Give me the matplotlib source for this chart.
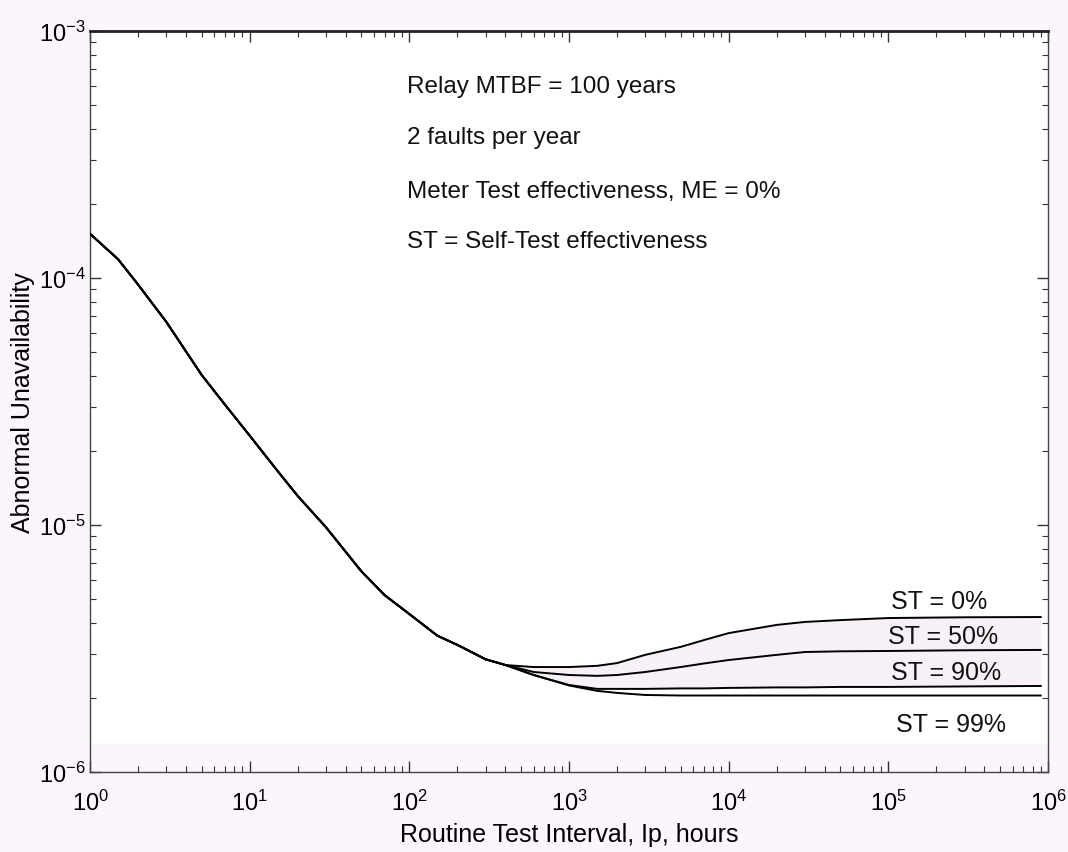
import matplotlib
matplotlib.use("Agg")
import matplotlib.pyplot as plt
from matplotlib.ticker import LogLocator, NullFormatter, FixedLocator

plt.rcParams["font.family"] = ["Liberation Sans", "DejaVu Sans"]
plt.rcParams["mathtext.fontset"] = "custom"
plt.rcParams["mathtext.rm"] = "Liberation Sans"

# shared descending part (all four curves coincide)
x_common = [1, 1.5, 2, 3, 5, 7, 10, 15, 20, 30, 50, 70, 100, 150, 200, 300, 400]
y_common = [1.51e-4, 1.19e-4, 9.4e-5, 6.65e-5, 4.05e-5, 3.07e-5, 2.30e-5, 1.65e-5,
            1.31e-5, 9.8e-6, 6.5e-6, 5.2e-6, 4.36e-6, 3.56e-6, 3.27e-6, 2.86e-6, 2.71e-6]

# tails after the split, by self-test effectiveness
x_tail = [600, 1000, 1500, 2000, 3000, 5000, 7000, 1e4, 2e4, 3e4, 5e4, 1e5, 3e5, 9e5]
st0 = [2.66e-6, 2.66e-6, 2.69e-6, 2.76e-6, 2.98e-6, 3.21e-6, 3.42e-6, 3.65e-6,
       3.94e-6, 4.05e-6, 4.12e-6, 4.20e-6, 4.23e-6, 4.24e-6]
st50 = [2.54e-6, 2.47e-6, 2.45e-6, 2.47e-6, 2.54e-6, 2.66e-6, 2.75e-6, 2.84e-6,
        2.98e-6, 3.06e-6, 3.08e-6, 3.09e-6, 3.11e-6, 3.12e-6]
st90 = [2.47e-6, 2.25e-6, 2.17e-6, 2.17e-6, 2.17e-6, 2.18e-6, 2.18e-6, 2.19e-6,
        2.20e-6, 2.20e-6, 2.21e-6, 2.21e-6, 2.22e-6, 2.23e-6]
st99 = [2.47e-6, 2.24e-6, 2.13e-6, 2.09e-6, 2.05e-6, 2.04e-6, 2.04e-6, 2.04e-6,
        2.04e-6, 2.04e-6, 2.04e-6, 2.04e-6, 2.04e-6, 2.04e-6]

series = {"ST = 0%": st0, "ST = 50%": st50, "ST = 90%": st90, "ST = 99%": st99}
label_pos = {"ST = 0%": (2.07e5, 4.92e-6), "ST = 50%": (2.19e5, 3.56e-6),
             "ST = 90%": (2.29e5, 2.54e-6), "ST = 99%": (2.46e5, 1.56e-6)}

notes = ["Relay MTBF = 100 years", "2 faults per year",
         "Meter Test effectiveness, ME = 0%", "ST = Self-Test effectiveness"]
note_y = [6.0e-4, 3.72e-4, 2.25e-4, 1.41e-4]

x_major = [1, 10, 100, 1e3, 1e4, 1e5, 1e6]
y_major = [1e-6, 1e-5, 1e-4, 1e-3]

bg = "#fdf5fd"
fig = plt.figure(figsize=(10.68, 8.53), dpi=100)
fig.patch.set_facecolor(bg)
ax = fig.add_axes([0.0843, 0.0938, 0.897, 0.8687])
ax.set_facecolor("white")
ax.set_xscale("log")
ax.set_yscale("log")

ax.axhspan(1e-6, 1.3e-6, color=bg, lw=0, zorder=0)

x_full = x_common + x_tail
ax.fill_between(x_full, y_common + st0, y_common + st90, color="#f7f1f7", lw=0, zorder=1)
for name, tail in series.items():
    ax.plot(x_full, y_common + tail, color="black", lw=1.4, zorder=3)
    lx, ly = label_pos[name]
    ax.text(lx, ly, name, ha="center", va="center", fontsize=18, color="#111111")

for txt, yv in zip(notes, note_y):
    ax.text(97, yv, txt, ha="left", va="center", fontsize=17.5, color="#111111")

ax.xaxis.set_major_locator(FixedLocator(x_major))
ax.yaxis.set_major_locator(FixedLocator(y_major))
ax.xaxis.set_minor_locator(LogLocator(base=10, subs=range(2, 10), numticks=20))
ax.yaxis.set_minor_locator(LogLocator(base=10, subs=range(2, 10), numticks=20))
ax.xaxis.set_minor_formatter(NullFormatter())
ax.yaxis.set_minor_formatter(NullFormatter())
ax.set_xlim(1, 1e6)
ax.set_ylim(1e-6, 1e-3)
ax.tick_params(which="both", direction="in", top=True, right=True, colors="#333333",
               labelcolor="black", labelsize=17)
ax.tick_params(which="major", length=8, width=1.0)
ax.tick_params(which="minor", length=4, width=0.8)
ax.tick_params(axis="x", which="major", pad=13)
ax.tick_params(axis="y", which="major", pad=3)

for side in ["left", "bottom", "right"]:
    ax.spines[side].set_color("#444444")
    ax.spines[side].set_linewidth(1.0)
ax.spines["top"].set_color("#222222")
ax.spines["top"].set_linewidth(2.0)

ax.set_xlabel("Routine Test Interval, Ip, hours", fontsize=18, labelpad=5)
ax.set_ylabel("Abnormal Unavailability", fontsize=18)
ax.yaxis.set_label_coords(-0.057, 0.5)

plt.savefig("out.png", dpi=100, facecolor=fig.get_facecolor())
